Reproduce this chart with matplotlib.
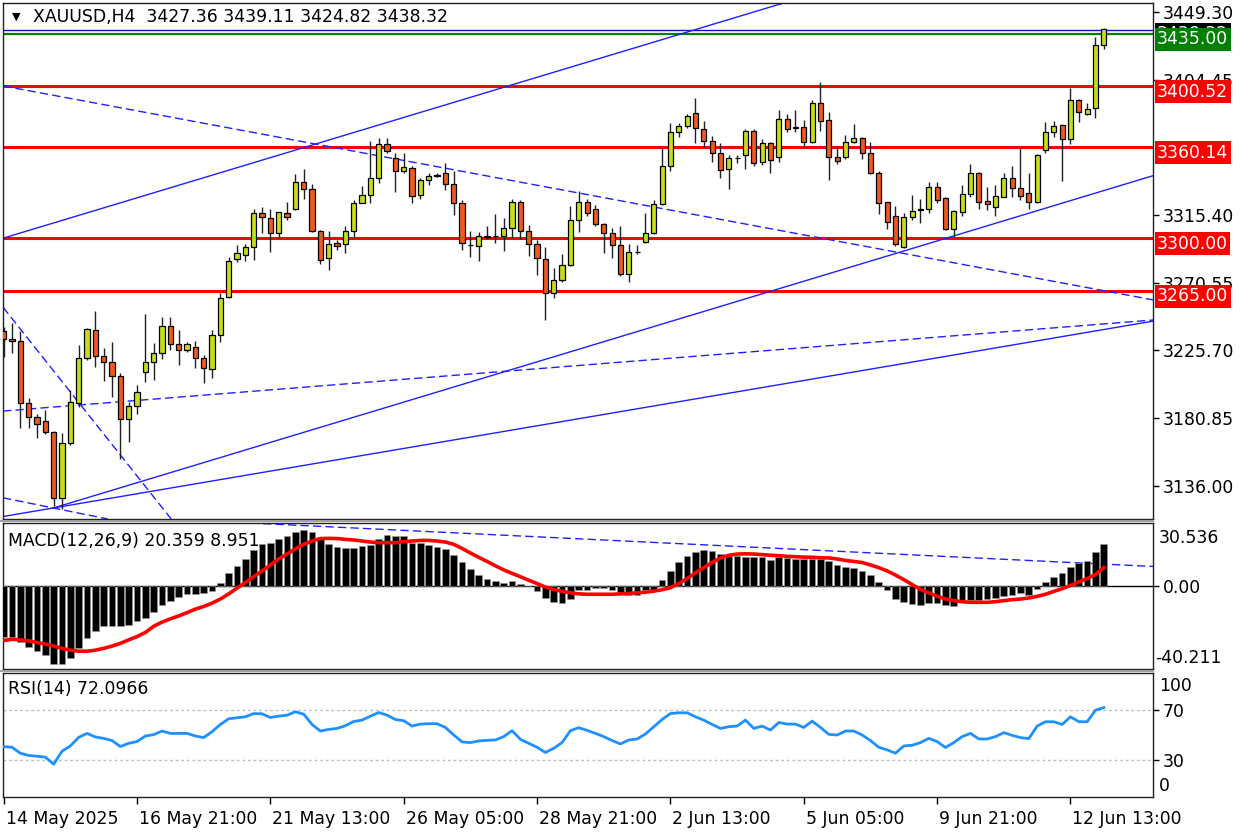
import matplotlib
matplotlib.use("Agg")
import matplotlib.pyplot as plt
import matplotlib.transforms as mtransforms
from matplotlib.lines import Line2D

# ---- price data (H4 candles, 14 May 05:00 .. 13 Jun 05:00) ----
opens = [3238.7, 3233.0, 3231.9, 3191.1, 3181.8, 3179.2, 3171.7, 3128.3, 3164.2, 3191.1,
         3220.4, 3239.2, 3222.0, 3217.8, 3208.9, 3180.1, 3189.1, 3211.6, 3217.8, 3224.1,
         3242.0, 3229.7, 3225.9, 3228.1, 3220.4, 3213.2, 3235.9, 3261.2, 3285.9, 3288.8,
         3294.2, 3316.3, 3313.0, 3303.1, 3316.3, 3319.0, 3337.2, 3332.2, 3304.6, 3286.6,
         3296.5, 3295.8, 3304.6, 3323.3, 3328.4, 3339.5, 3362.0, 3352.7, 3344.3, 3346.5,
         3328.4, 3338.4, 3341.7, 3343.2, 3335.5, 3322.9, 3295.6, 3294.9, 3300.9, 3301.5,
         3301.5, 3306.8, 3324.0, 3304.6, 3296.0, 3285.9, 3263.4, 3272.2, 3282.1, 3311.9,
         3324.0, 3319.0, 3309.1, 3303.5, 3295.4, 3276.2, 3290.9, 3297.6, 3303.1, 3322.5,
         3347.8, 3369.9, 3374.1, 3382.9, 3371.9, 3364.4, 3356.4, 3345.6, 3352.7, 3354.9,
         3370.8, 3350.5, 3363.0, 3353.4, 3378.7, 3373.4, 3373.6, 3363.7, 3389.1, 3378.0,
         3353.4, 3353.4, 3363.7, 3366.3, 3356.0, 3343.2, 3323.6, 3314.8, 3294.2, 3314.1,
         3319.0, 3319.0, 3333.5, 3326.7, 3305.8, 3317.4, 3329.1, 3343.2, 3324.5, 3320.3,
         3327.3, 3339.5, 3333.3, 3329.6, 3323.6, 3358.2, 3370.3, 3374.7, 3365.3, 3391.3,
         3382.0, 3385.8, 3427.36]
highs = [3241.3, 3243.6, 3238.5, 3194.0, 3183.6, 3186.3, 3172.5, 3171.2, 3199.5, 3229.2,
         3240.3, 3251.7, 3227.1, 3231.0, 3210.9, 3191.7, 3202.8, 3249.7, 3230.4, 3247.6,
         3248.0, 3239.2, 3231.4, 3231.9, 3222.6, 3239.2, 3263.4, 3287.4, 3295.4, 3295.8,
         3319.0, 3320.3, 3319.0, 3317.4, 3324.0, 3342.3, 3345.4, 3335.7, 3305.5, 3304.6,
         3298.7, 3308.1, 3325.1, 3334.4, 3364.4, 3365.9, 3365.9, 3356.0, 3356.0, 3347.6,
         3339.9, 3343.2, 3342.8, 3349.8, 3344.3, 3325.1, 3304.6, 3304.2, 3307.9, 3315.7,
         3313.0, 3325.6, 3325.1, 3308.6, 3298.7, 3294.2, 3280.0, 3289.2, 3321.2, 3331.3,
         3325.6, 3321.8, 3309.7, 3306.4, 3307.9, 3295.8, 3295.4, 3316.3, 3325.1, 3359.3,
         3375.9, 3375.9, 3381.8, 3392.6, 3377.4, 3367.5, 3363.0, 3354.9, 3354.9, 3371.9,
         3371.9, 3365.3, 3363.7, 3384.7, 3381.8, 3384.7, 3378.0, 3391.3, 3403.4, 3383.1,
         3360.8, 3368.1, 3375.4, 3367.0, 3363.7, 3344.5, 3324.0, 3321.2, 3316.3, 3328.4,
         3325.6, 3337.2, 3337.2, 3327.3, 3318.5, 3335.1, 3348.7, 3343.6, 3333.9, 3335.1,
         3343.2, 3347.8, 3359.3, 3342.8, 3355.6, 3376.9, 3377.6, 3375.4, 3399.0, 3392.1,
         3389.1, 3433.1, 3439.11]
lows = [3221.5, 3223.7, 3174.1, 3174.1, 3167.5, 3170.4, 3122.8, 3120.6, 3163.1, 3188.4,
        3219.3, 3214.5, 3205.6, 3195.1, 3153.7, 3165.3, 3183.6, 3205.0, 3206.1, 3219.8,
        3225.9, 3216.0, 3224.8, 3213.8, 3203.9, 3207.2, 3231.4, 3260.3, 3284.3, 3284.8,
        3285.5, 3303.1, 3290.5, 3299.8, 3311.9, 3318.5, 3325.6, 3303.8, 3282.8, 3278.8,
        3292.1, 3290.3, 3299.8, 3322.9, 3322.9, 3336.2, 3356.4, 3330.6, 3343.2, 3322.9,
        3325.6, 3335.1, 3340.5, 3331.7, 3315.2, 3292.1, 3287.2, 3285.0, 3299.1, 3296.9,
        3291.4, 3299.8, 3299.1, 3288.1, 3275.5, 3245.8, 3260.1, 3271.1, 3281.5, 3304.2,
        3314.6, 3307.9, 3289.9, 3286.6, 3274.9, 3271.1, 3289.4, 3297.0, 3302.5, 3321.5,
        3344.3, 3367.0, 3372.6, 3362.6, 3360.4, 3350.5, 3339.5, 3332.2, 3349.4, 3345.4,
        3347.6, 3348.3, 3343.2, 3350.5, 3370.3, 3370.3, 3360.4, 3363.0, 3370.8, 3338.4,
        3348.9, 3352.0, 3362.6, 3352.0, 3342.3, 3315.9, 3306.0, 3294.7, 3293.2, 3311.9,
        3310.1, 3316.3, 3322.9, 3305.3, 3300.5, 3314.6, 3327.3, 3319.0, 3318.5, 3314.6,
        3326.9, 3327.3, 3325.1, 3319.0, 3323.0, 3356.0, 3367.0, 3337.7, 3362.2, 3376.9,
        3381.3, 3379.2, 3424.82]
closes = [3233.0, 3231.9, 3190.7, 3181.4, 3176.8, 3171.5, 3128.3, 3164.6, 3191.7, 3220.4,
          3239.8, 3222.0, 3218.2, 3208.9, 3180.1, 3189.1, 3198.4, 3218.2, 3224.1, 3242.0,
          3229.7, 3225.9, 3229.7, 3220.4, 3213.8, 3235.9, 3260.5, 3284.8, 3289.9, 3294.2,
          3316.3, 3313.7, 3303.1, 3317.0, 3314.1, 3337.2, 3332.2, 3304.6, 3285.5, 3296.0,
          3294.9, 3304.6, 3323.3, 3328.4, 3339.5, 3362.2, 3357.7, 3344.5, 3347.2, 3327.8,
          3338.4, 3341.0, 3341.0, 3335.5, 3322.9, 3296.5, 3295.2, 3301.3, 3301.1, 3301.3,
          3306.8, 3324.0, 3304.6, 3296.0, 3286.6, 3263.4, 3272.2, 3282.1, 3311.9, 3324.0,
          3316.3, 3309.1, 3303.1, 3295.4, 3276.2, 3290.5, 3290.7, 3303.1, 3322.5, 3347.8,
          3369.9, 3374.1, 3380.9, 3372.6, 3364.4, 3356.0, 3345.0, 3352.7, 3352.9, 3370.8,
          3349.4, 3362.6, 3351.6, 3378.7, 3371.9, 3373.0, 3363.7, 3389.1, 3377.4, 3353.4,
          3351.1, 3363.7, 3366.3, 3356.0, 3342.8, 3322.9, 3310.4, 3296.0, 3314.1, 3318.1,
          3318.8, 3333.5, 3325.1, 3305.8, 3318.1, 3329.1, 3343.2, 3324.0, 3322.5, 3328.0,
          3339.5, 3333.3, 3327.8, 3323.6, 3354.9, 3370.3, 3374.1, 3365.3, 3391.3, 3383.1,
          3385.3, 3427.6, 3438.32]

# MACD(12,26,9): histogram (main) and signal
macd_main = [-24.5, -24.8, -26.9, -29.4, -31.6, -33.2, -37.7, -37.7, -34.9, -30.2,
             -25.0, -21.7, -19.5, -19.5, -19.5, -18.7, -17.0, -15.4, -12.6, -9.3,
             -7.1, -5.5, -4.0, -4.0, -3.3, -2.5, 1.3, 6.1, 9.8, 13.2,
             17.4, 20.2, 21.0, 23.0, 24.0, 26.0, 27.3, 26.0, 23.1, 20.5,
             18.8, 18.2, 18.5, 19.3, 20.0, 23.0, 24.6, 24.0, 24.0, 21.0,
             21.0, 19.8, 18.8, 17.7, 15.2, 11.4, 8.1, 5.3, 3.3, 2.3,
             1.5, 2.3, 1.2, 0.1, -2.6, -5.8, -7.6, -8.3, -6.3, -2.1,
             -1.7, -1.0, -1.0, -1.7, -3.0, -4.3, -4.3, -2.1, -1.7, 2.8,
             7.4, 11.4, 14.7, 16.5, 17.4, 16.9, 15.7, 14.7, 14.7, 14.2,
             13.9, 13.9, 12.7, 13.9, 13.6, 13.2, 13.2, 13.2, 13.2, 12.2,
             10.2, 9.1, 8.6, 7.4, 5.3, 2.0, -2.0, -6.3, -7.9, -8.8,
             -9.3, -8.3, -8.3, -9.3, -9.9, -6.8, -6.8, -6.8, -6.3, -6.0,
             -4.6, -4.3, -3.5, -4.3, -1.3, 2.0, 4.5, 6.1, 9.1, 11.1,
             11.9, 16.5, 20.359]
macd_signal = [-26.4, -25.8, -26.1, -26.6, -27.4, -28.1, -29.1, -30.2, -31.1, -31.6,
               -31.6, -31.1, -30.2, -29.1, -27.8, -26.1, -24.5, -22.5, -19.5, -17.5,
               -15.9, -14.5, -12.9, -11.2, -9.9, -8.3, -6.3, -3.8, -1.0, 1.7,
               4.5, 7.3, 10.2, 13.1, 15.5, 18.0, 20.2, 21.8, 23.0, 23.1,
               23.0, 22.6, 22.3, 21.8, 21.3, 21.0, 21.0, 21.0, 21.5, 21.8,
               22.1, 22.1, 21.8, 21.3, 20.2, 18.2, 16.0, 13.9, 11.9, 9.8,
               7.8, 6.1, 4.5, 2.8, 1.2, -0.5, -1.7, -2.6, -3.3, -3.8,
               -4.0, -4.0, -4.0, -4.0, -3.8, -3.6, -3.3, -3.0, -2.5, -1.8,
               -0.8, 1.2, 3.6, 6.4, 8.9, 11.4, 13.6, 14.9, 15.5, 15.6,
               15.5, 15.2, 14.9, 14.7, 14.4, 14.2, 14.0, 13.9, 13.7, 13.6,
               13.1, 12.4, 11.9, 11.4, 10.2, 8.9, 7.3, 5.3, 3.1, 0.7,
               -1.7, -3.3, -5.0, -6.3, -7.1, -7.6, -7.9, -7.9, -7.9, -7.6,
               -7.1, -6.6, -6.3, -5.8, -5.0, -4.0, -2.6, -1.3, 0.3, 2.0,
               3.6, 5.6, 8.951]

rsi = [40.7, 40.1, 35.3, 33.5, 32.9, 32.1, 26.5, 36.9, 41.2, 48.1,
       51.3, 48.4, 47.3, 45.5, 40.7, 43.3, 44.7, 49.2, 50.3, 53.2,
       51.3, 51.3, 51.3, 49.2, 47.9, 52.7, 58.5, 63.1, 63.9, 64.7,
       67.3, 67.1, 64.1, 65.2, 66.0, 68.7, 66.8, 58.5, 53.2, 54.5,
       55.3, 57.5, 60.9, 62.0, 65.2, 68.1, 66.0, 62.5, 61.5, 57.2,
       58.8, 59.1, 59.1, 56.1, 50.0, 44.4, 43.9, 45.2, 45.7, 46.0,
       48.7, 53.5, 46.5, 43.3, 40.1, 35.9, 39.3, 43.9, 53.5, 55.9,
       53.7, 51.3, 48.7, 45.5, 42.8, 46.0, 46.8, 50.8, 56.7, 62.5,
       67.3, 67.9, 67.9, 64.7, 62.0, 58.5, 55.3, 56.7, 57.2, 62.0,
       55.3, 57.2, 54.0, 60.1, 58.8, 58.8, 56.1, 61.2, 56.1, 50.5,
       50.0, 53.2, 53.2, 50.0, 45.5, 40.1, 38.0, 35.3, 41.2, 41.7,
       43.9, 47.3, 44.7, 39.9, 43.9, 48.7, 51.3, 46.8, 46.8, 48.7,
       51.9, 49.7, 47.9, 47.1, 57.2, 60.7, 60.7, 58.5, 64.7, 60.7,
       60.7, 70.0, 72.0966]

date_ticks = [0, 16, 32, 48, 64, 80, 96, 112, 128]
date_labels = ["14 May 2025", "16 May 21:00", "21 May 13:00", "26 May 05:00",
               "28 May 21:00", "2 Jun 13:00", "5 Jun 05:00", "9 Jun 21:00", "12 Jun 13:00"]

price_ticks = [3136.00, 3180.85, 3225.70, 3270.55, 3315.40, 3404.45, 3449.30]
red_levels = [3400.52, 3360.14, 3300.00, 3265.00]
green_level = 3435.00
blue_level = 3437.6
last_price = 3438.32

# trend lines: (bar, price) anchor pairs
solid_lines = [((0, 3300.0), (90.8, 3450.8)),
               ((6, 3121.5), (138, 3245.1))]
solid_rays = [((6, 3121.5), (104.4, 3285.4))]
dashed_lines = [((0, 3400.5), (138, 3259.0)),
                ((0, 3185.6), (138, 3245.8)),
                ((0, 3253.7), (20.2, 3113.5)),
                ((0, 3128.1), (13.1, 3113.5))]
macd_dashed = ((37.0, 29.1), (138, 9.46))

BULL = "#c8dc1e"
BEAR = "#f05a1e"
FS = 12.4

W, H = 1248, 832
fig = plt.figure(figsize=(W / 100, H / 100), dpi=100)


def px_rect(x0, y0, x1, y1):
    return [x0 / W, 1 - y1 / H, (x1 - x0) / W, (y1 - y0) / H]


ax = fig.add_axes(px_rect(3, 3, 1153, 519))
ax_macd = fig.add_axes(px_rect(3, 523, 1153, 669), sharex=ax)
ax_rsi = fig.add_axes(px_rect(3, 673, 1153, 797), sharex=ax)

n = len(closes)
xs = list(range(n))
ax.set_xlim(-0.08, 137.9)

for a in (ax, ax_macd, ax_rsi):
    for s in a.spines.values():
        s.set_color("#202020")
        s.set_linewidth(1)
    a.yaxis.tick_right()
    a.tick_params(axis="y", length=4, width=1, pad=3, labelsize=FS, colors="black")
    a.tick_params(axis="x", bottom=False, labelbottom=False)

# ---- main chart ----
ax.set_ylim(3114.17, 3455.41)
ax.set_yticks(price_ticks)
ax.set_yticklabels(["%.2f" % v for v in price_ticks])

for lvl in red_levels:
    ax.axhline(lvl, color="#ff0000", lw=2.2, zorder=2)
ax.axhline(green_level, color="#008000", lw=1.6, zorder=2)
ax.axhline(blue_level, color="#1010c0", lw=1.0, zorder=2)

for p1, p2 in solid_lines:
    ax.axline(p1, p2, color="#2020ff", lw=1.0, zorder=2)
for p1, p2 in solid_rays:
    slope = (p2[1] - p1[1]) / (p2[0] - p1[0])
    ax.plot([p1[0], 140], [p1[1], p1[1] + slope * (140 - p1[0])], color="#2020ff", lw=1.0, zorder=2)
for p1, p2 in dashed_lines:
    ax.axline(p1, p2, color="#2020ff", lw=1.0, dashes=(6, 3), zorder=2)

body_lo = [min(o, c) for o, c in zip(opens, closes)]
body_h = [max(abs(c - o), 0.35) for o, c in zip(opens, closes)]
colors = [BULL if c >= o else BEAR for o, c in zip(opens, closes)]
ax.vlines(xs, lows, highs, color="#202020", lw=1.0, zorder=3)
ax.bar(xs, body_h, bottom=body_lo, width=0.62, color=colors, edgecolor="black",
       linewidth=0.9, zorder=4)

# price tags on the right scale
tag_tr = mtransforms.blended_transform_factory(ax.transAxes, ax.transData)
tag_off = mtransforms.ScaledTranslation(4 / 100, -5.5 / 100, fig.dpi_scale_trans)


def price_tag(value, face, z):
    ax.text(1.0, value, "%.2f" % value, transform=tag_tr + tag_off, ha="left", va="center",
            fontsize=FS, color="white", zorder=z, clip_on=False,
            bbox=dict(boxstyle="square,pad=0.14", fc=face, ec="none"))


price_tag(last_price, "black", 9)
price_tag(green_level, "#008000", 10)
for lvl in red_levels:
    price_tag(lvl, "#ff0000", 10)

# ---- MACD ----
ax_macd.set_ylim(-40.211, 30.536)
ax_macd.bar(xs, macd_main, width=0.8, color="black", edgecolor="#9a9a9a", linewidth=0.4, zorder=3)
ax_macd.axhline(0, color="black", lw=1.0, zorder=2)
ax_macd.plot(xs, macd_signal, color="#ff0000", lw=2.6, zorder=4)
ax_macd.axline(macd_dashed[0], macd_dashed[1], color="#2020ff", lw=1.0, dashes=(6, 3), zorder=2)
ax_macd.set_yticks([0])
ax_macd.set_yticklabels(["0.00"])
ax_macd.text(1.0, 1.0, "30.536", transform=ax_macd.transAxes + mtransforms.ScaledTranslation(
    6 / 100, -6 / 100, fig.dpi_scale_trans), ha="left", va="top", fontsize=FS, clip_on=False)
ax_macd.text(1.0, 0.0, "-40.211", transform=ax_macd.transAxes + mtransforms.ScaledTranslation(
    2 / 100, 2 / 100, fig.dpi_scale_trans), ha="left", va="bottom", fontsize=FS, clip_on=False)
ax_macd.text(0.004, 0.88, "MACD(12,26,9) 20.359 8.951", transform=ax_macd.transAxes,
             ha="left", va="center", fontsize=FS)

# ---- RSI ----
ax_rsi.set_ylim(0, 100)
ax_rsi.axhline(70, color="#c0c0c0", lw=1.0, ls=(0, (2, 2)), zorder=1)
ax_rsi.axhline(30, color="#c0c0c0", lw=1.0, ls=(0, (2, 2)), zorder=1)
ax_rsi.plot(xs, rsi, color="#1e90ff", lw=2.0, zorder=3)
ax_rsi.set_yticks([30, 70])
ax_rsi.set_yticklabels(["30", "70"])
ax_rsi.text(1.0, 1.0, "100", transform=ax_rsi.transAxes + mtransforms.ScaledTranslation(
    6 / 100, -4 / 100, fig.dpi_scale_trans), ha="left", va="top", fontsize=FS, clip_on=False)
ax_rsi.text(1.0, 0.0, "0", transform=ax_rsi.transAxes + mtransforms.ScaledTranslation(
    6 / 100, 2 / 100, fig.dpi_scale_trans), ha="left", va="bottom", fontsize=FS, clip_on=False)
ax_rsi.text(0.004, 0.87, "RSI(14) 72.0966", transform=ax_rsi.transAxes,
            ha="left", va="center", fontsize=FS)

ax_rsi.set_xticks(date_ticks)
ax_rsi.set_xticklabels(date_labels)
ax_rsi.tick_params(axis="x", bottom=True, labelbottom=True, length=5, width=1, pad=4,
                   labelsize=FS)
xoff = mtransforms.ScaledTranslation(2 / 100, 0, fig.dpi_scale_trans)
for lbl in ax_rsi.get_xticklabels():
    lbl.set_horizontalalignment("left")
    lbl.set_transform(lbl.get_transform() + xoff)

# ---- header ----
fig.text(12 / W, 1 - 17 / H, "\u25bc", fontsize=8, ha="left", va="center")
fig.text(33 / W, 1 - 17 / H, "XAUUSD,H4  3427.36 3439.11 3424.82 3438.32",
         fontsize=FS, ha="left", va="center")

# window separators
for yy in (521, 671):
    fig.add_artist(Line2D([0, 1153 / W], [1 - yy / H, 1 - yy / H], color="#a0a0a0", lw=1.5))

fig.savefig("out.png", dpi=100)
